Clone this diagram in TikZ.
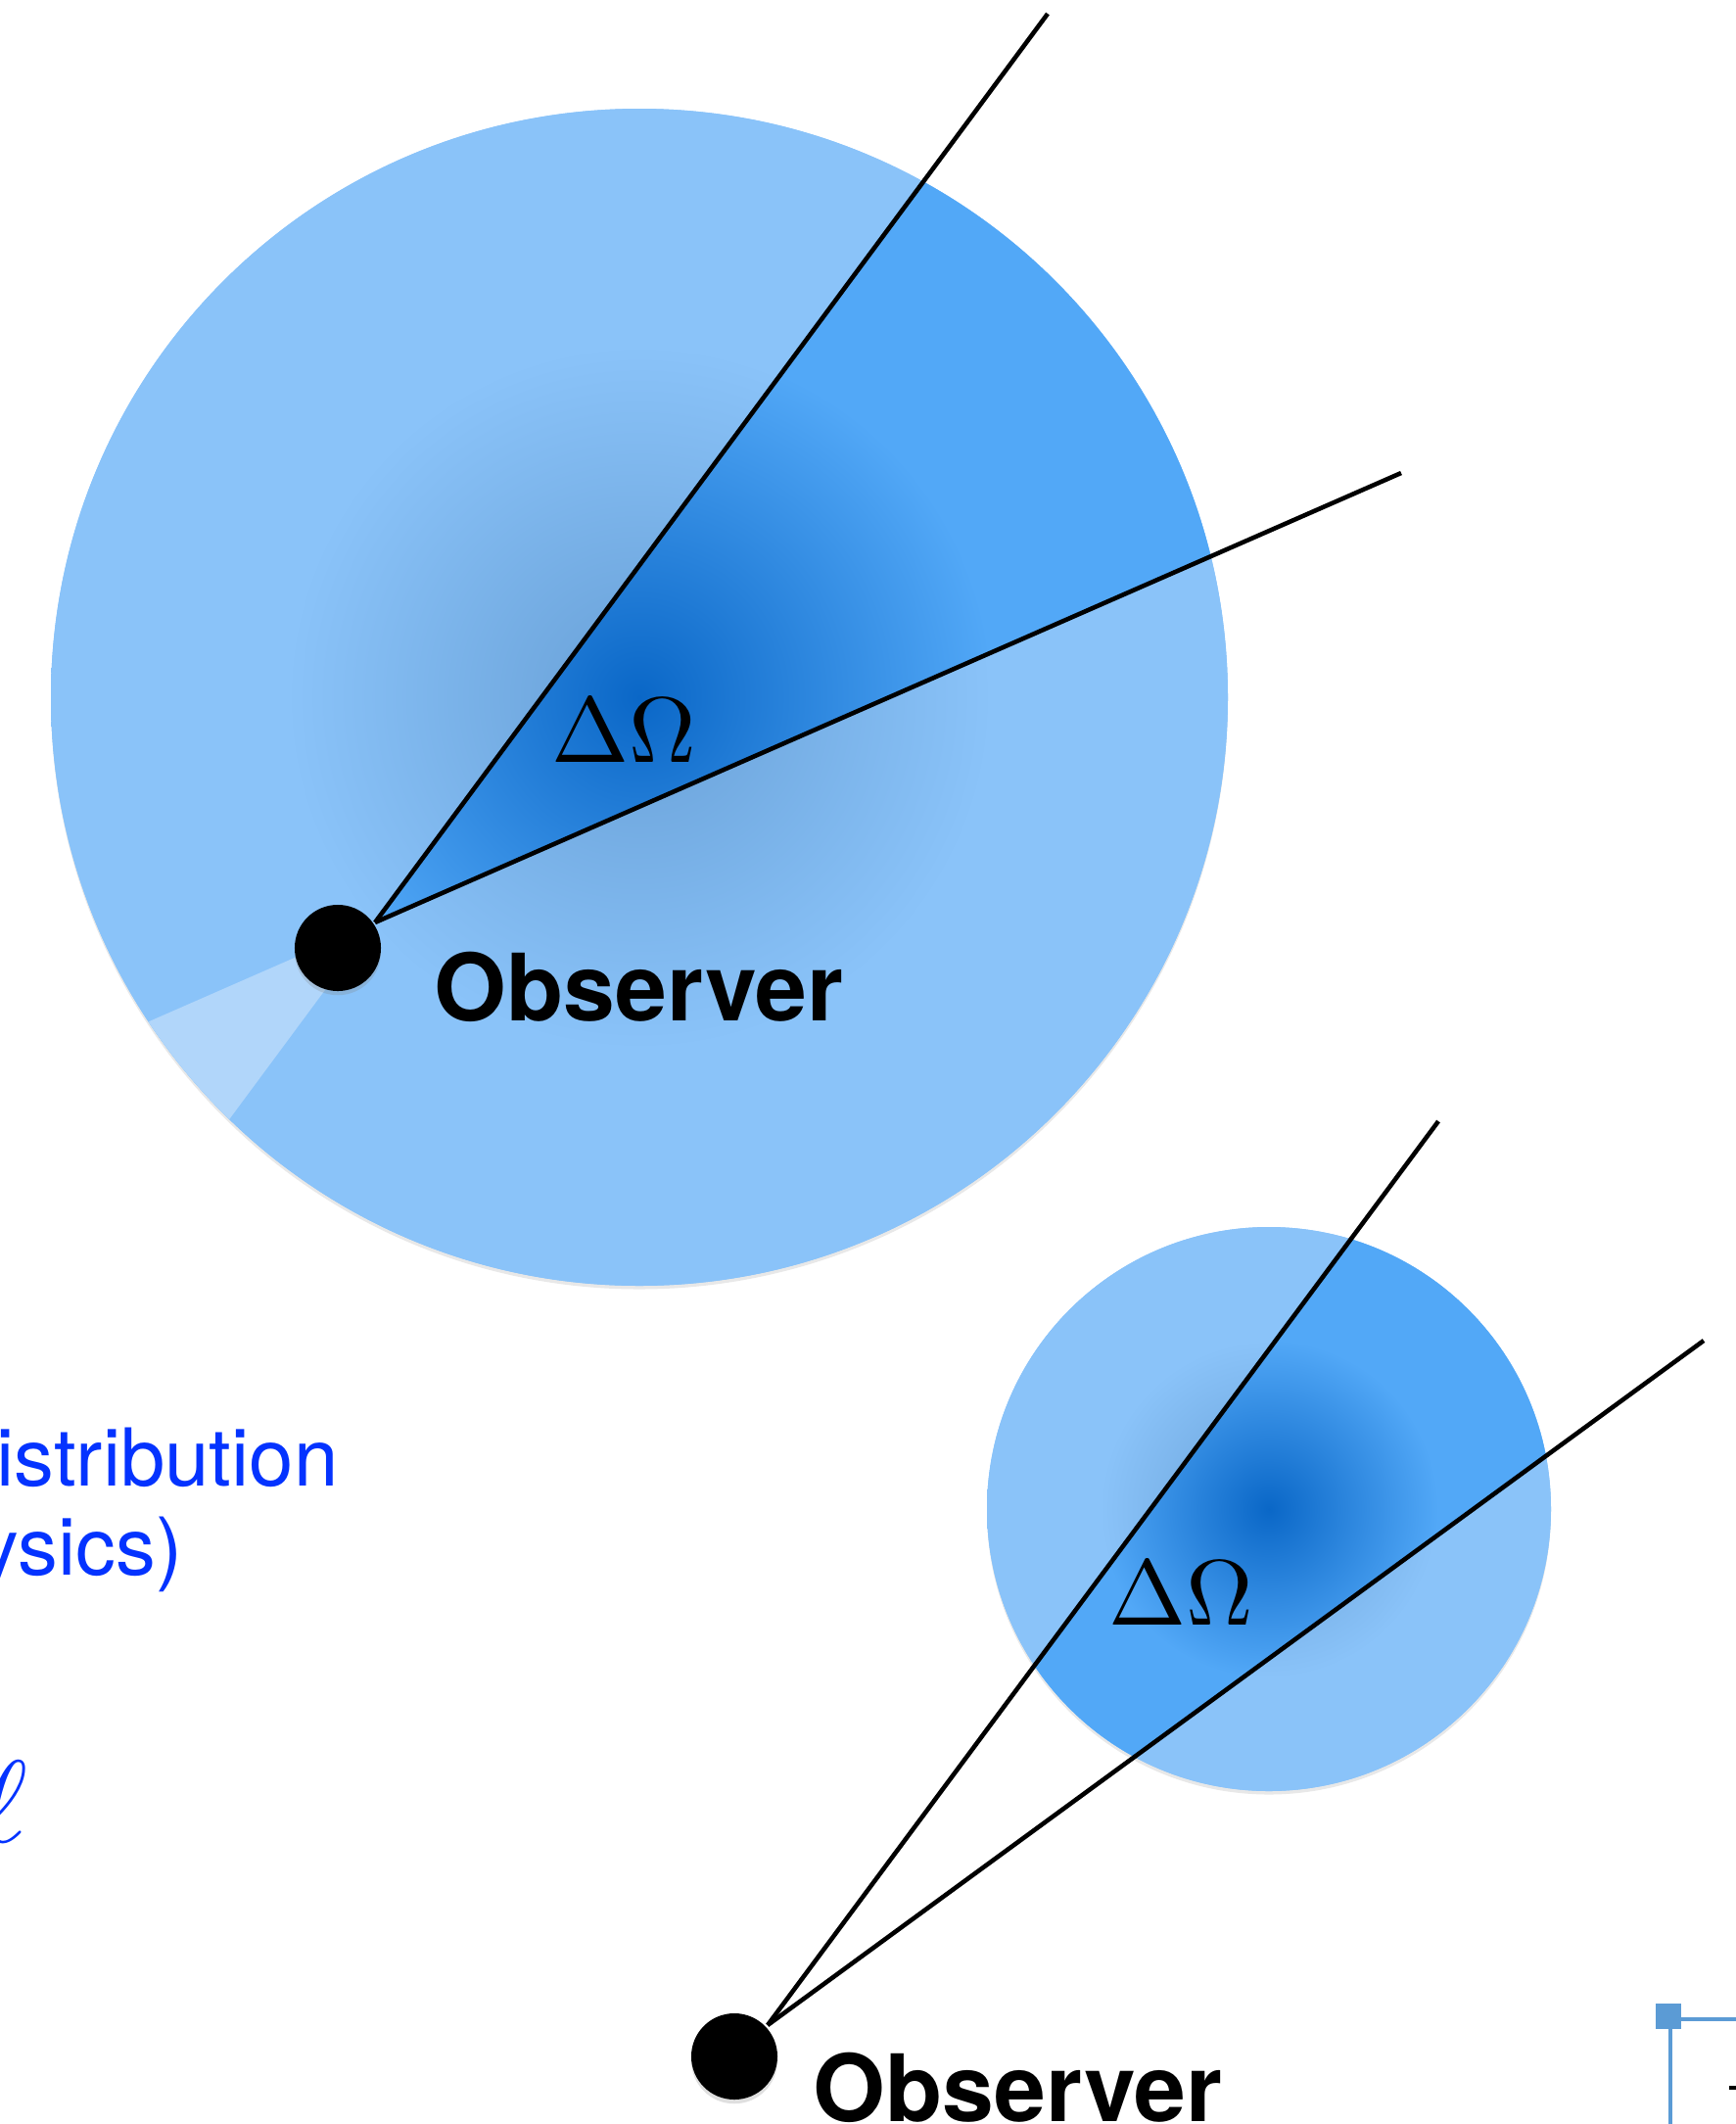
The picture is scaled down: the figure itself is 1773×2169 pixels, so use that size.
\documentclass[tikz,border=0pt]{standalone}
\usepackage{fontspec}
\newfontfamily\helv{TeX Gyre Heros}
\definecolor{skyLight}{HTML}{8AC3F9}
\definecolor{skyMid}{HTML}{52A8F7}
\definecolor{skyDeep}{HTML}{0A67C7}
\definecolor{skyGrey}{HTML}{68A0D7}
\definecolor{skyPale}{HTML}{B1D6FA}
\definecolor{noteBlue}{HTML}{0433FF}
\definecolor{handleBlue}{HTML}{5B9BD5}
\usetikzlibrary{calc,positioning,shadows}
\pgfdeclareradialshading{glowOut}{\pgfpointorigin}{color(0bp)=(skyGrey); color(15bp)=(skyLight); color(50bp)=(skyLight)}
\pgfdeclareradialshading{glowIn}{\pgfpointorigin}{color(0bp)=(skyDeep); color(15bp)=(skyMid); color(50bp)=(skyMid)}

\begin{document}
\begin{tikzpicture}[x=0.01cm, y=-0.01cm,
  obsdot/.style={circle, fill=black, inner sep=0pt, minimum size=0.88cm,
                 drop shadow={opacity=0.25, shadow xshift=0pt, shadow yshift=-1.2pt}},
  obslabel/.style={anchor=base west, inner sep=0pt, font=\helv\bfseries\fontsize{27}{27}\selectfont},
  solang/.style={inner sep=0pt},
  ray/.style={line width=1.3pt, black},
  note/.style={anchor=base west, inner sep=0pt, text=noteBlue, font=\helv\fontsize{23.2}{28}\selectfont},
  cloudshadow/.style={drop shadow={opacity=0.18, shadow xshift=0pt, shadow yshift=-1pt}}
]
  \useasboundingbox (0,0) rectangle (1773,2169);

  \coordinate (cA) at (653,712);
  \coordinate (apA) at (383,942);
  \coordinate (endA1) at (1070,14);
  \coordinate (endA2) at (1431,483);
  \fill[skyLight, cloudshadow] (cA) circle[radius=601];
  \begin{scope}
    \clip (cA) circle[radius=601];
    \shade[shading=glowOut] (cA) circle[radius=601];
    \fill[skyPale] (apA) -- ($(apA)!-2!(endA1)$) -- ($(apA)!-2!(endA2)$) -- cycle;
    \clip (apA) -- ($(apA)!3!(endA1)$) -- ($(apA)!3!(endA2)$) -- cycle;
    \shade[shading=glowIn] (cA) circle[radius=601];
  \end{scope}
  \node[obsdot] (obsA) at (345,968) {};
  \draw[ray] (apA) -- (endA1);
  \draw[ray] (apA) -- (endA2);
  \node[solang] (omA) at (637,746) {\scalebox{2.7}{$\Delta\Omega$}};
  \node[obslabel] (labA) at (443,1042) {Observer};

  \coordinate (cB) at (1296,1541);
  \coordinate (apB) at (784,2068);
  \coordinate (endB1) at (1469,1145);
  \coordinate (endB2) at (1740,1369);
  \fill[skyLight, cloudshadow] (cB) circle[radius=288];
  \begin{scope}
    \clip (cB) circle[radius=288];
    \shade[shading=glowOut] (cB) circle[radius=288];
    \clip (apB) -- ($(apB)!3!(endB1)$) -- ($(apB)!3!(endB2)$) -- cycle;
    \shade[shading=glowIn] (cB) circle[radius=288];
  \end{scope}
  \node[obsdot] (obsB) at (750,2100) {};
  \draw[ray] (apB) -- (endB1);
  \draw[ray] (apB) -- (endB2);
  \node[solang] (omB) at (1206,1627) {\scalebox{2.7}{$\Delta\Omega$}};
  \node[obslabel] (labB) at (830,2166) {Observer};

  \node[note] (srcA) at (-4,1517) {istribution};
  \node[note] (srcB) at (-22,1608) {ysics)};
  \node[note, font=\normalsize] (ell) at (-22,1881) {\scalebox{3.4}{$\ell$}};

  \node[fill=handleBlue, minimum size=0.26cm, inner sep=0pt] (hdl) at (1704,2059) {};
  \coordinate (frameR) at (1773,2062);
  \coordinate (frameB) at (1706,2169);
  \draw[handleBlue, line width=1.4pt] (frameR) -| (frameB);
  \fill (1766,2130) rectangle (1773,2134);
\end{tikzpicture}
\end{document}
